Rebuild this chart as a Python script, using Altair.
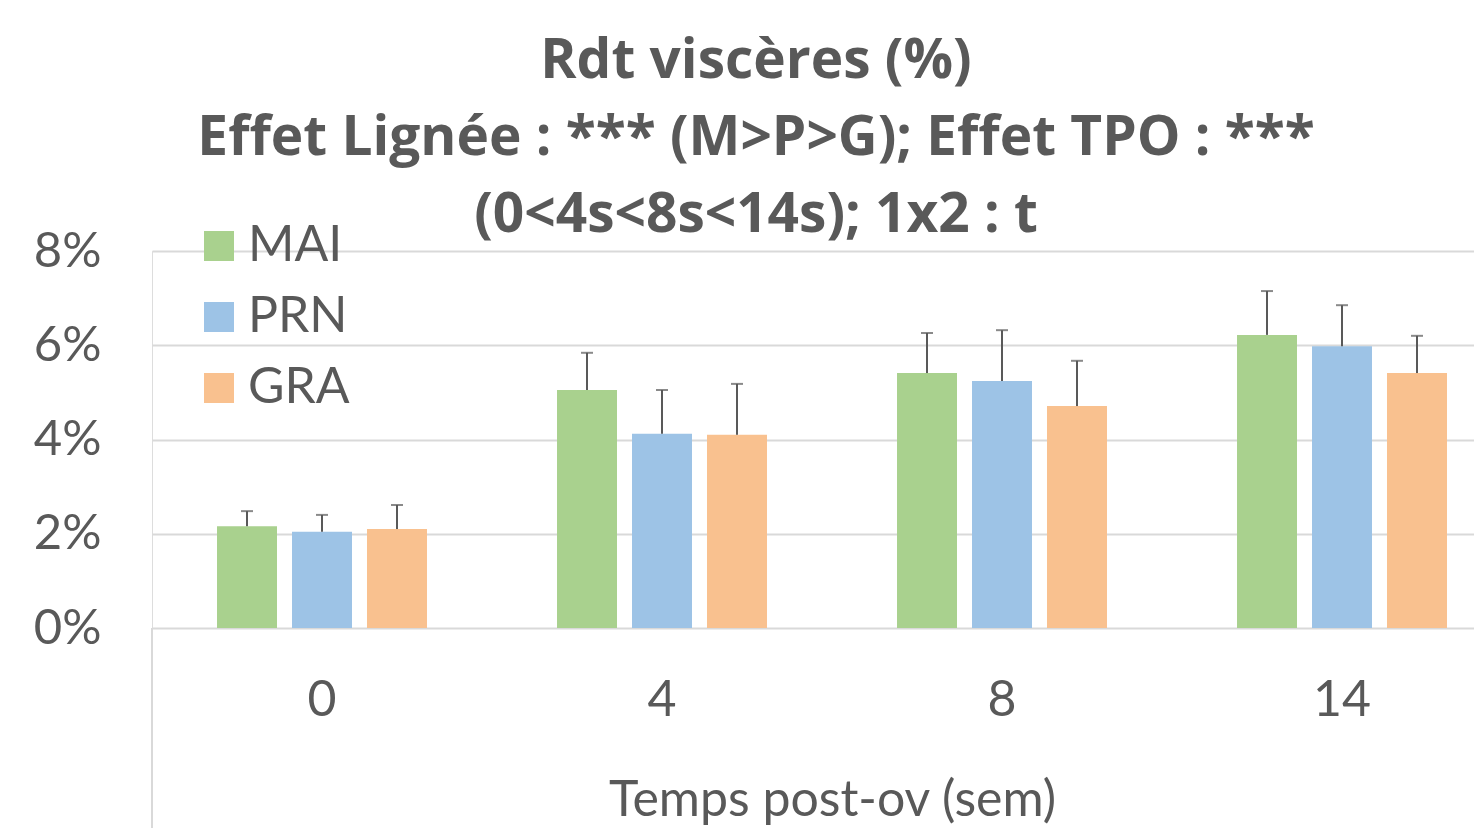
import altair as alt
import pandas as pd

times = ["0", "4", "8", "14"]
lines = ["MAI", "PRN", "GRA"]
mai_mean = [0.0216, 0.0505, 0.0541, 0.0622]
mai_top = [0.0248, 0.0584, 0.0626, 0.0715]
prn_mean = [0.0204, 0.0412, 0.0524, 0.0598]
prn_top = [0.0240, 0.0505, 0.0632, 0.0685]
gra_mean = [0.0210, 0.0410, 0.0471, 0.0541]
gra_top = [0.0261, 0.0518, 0.0567, 0.0620]
colors = ["#A9D18E", "#9DC3E6", "#F9C18F"]

rows = []
for name, means, tops in [("MAI", mai_mean, mai_top), ("PRN", prn_mean, prn_top), ("GRA", gra_mean, gra_top)]:
    for t, m, e in zip(times, means, tops):
        rows.append({"temps": t, "lignee": name, "val": m, "top": e})
df = pd.DataFrame(rows)

FONT = "Lato"
TFONT = "Open Sans"
TXT = "#595959"
W, H = 1322, 377

x = alt.X("temps:N", sort=times,
          scale=alt.Scale(domain=times, range=[0, 1360], paddingInner=0, paddingOuter=0),
          axis=alt.Axis(title="Temps post-ov (sem)", labelAngle=0, domain=False, ticks=False,
                        labelBaseline="alphabetic", labelPadding=87, labelFontSize=50,
                        labelFont=FONT, labelColor=TXT, titleFont=FONT, titleFontSize=50,
                        titleFontWeight="normal", titleColor=TXT, titleX=680, titleY=187,
                        titleBaseline="alphabetic", titleAlign="center", grid=False))
xo = alt.XOffset("lignee:N", sort=lines,
                 scale=alt.Scale(domain=lines, paddingInner=0.2, paddingOuter=0.867))

base = alt.Chart(df)

bars = base.mark_bar().encode(
    x=x, xOffset=xo,
    y=alt.Y("val:Q", scale=alt.Scale(domain=[0, 0.08]),
            axis=alt.Axis(title=None, format=".0%", values=[0, 0.02, 0.04, 0.06, 0.08],
                          domain=False, ticks=False, labelPadding=51, labelFontSize=49,
                          labelFont=FONT, labelColor=TXT, gridColor="#D9D9D9", gridWidth=2)),
    color=alt.Color("lignee:N", sort=lines,
                    scale=alt.Scale(domain=lines, range=colors),
                    legend=alt.Legend(title=None, orient="none", legendX=42, legendY=-30,
                                      symbolType="square", symbolSize=900, symbolStrokeWidth=0,
                                      labelFontSize=50, labelFont=FONT, labelColor=TXT,
                                      labelOffset=4, rowPadding=21, padding=0)),
)

rules = base.mark_rule(color="#595959", strokeWidth=2).encode(
    x=x, xOffset=xo, y="val:Q", y2="top:Q")
caps = base.mark_tick(color="#595959", thickness=2, size=12, orient="horizontal").encode(
    x=x, xOffset=xo, y="top:Q")

vline = alt.Chart(pd.DataFrame({"a": [0]})).mark_rule(color="#D9D9D9", strokeWidth=2).encode(
    x=alt.value(0), y=alt.value(H), y2=alt.value(H + 210))

chart = alt.layer(bars, rules, caps, vline).properties(
    width=W, height=H,
    autosize=alt.AutoSizeParams(type="none"),
    padding={"left": 144, "top": 243, "right": 0, "bottom": 200},
    title=alt.TitleParams(
        text=["Rdt viscères (%)", "Effet Lignée : *** (M>P>G); Effet TPO : ***", "(0<4s<8s<14s); 1x2 : t"],
        fontSize=55, fontWeight="bold", font=TFONT, color=TXT, lineHeight=77,
        anchor="middle", dx=-57, offset=10, dy=33),
).configure_view(stroke=None).configure(background="white")

chart.save("out.html", embed_options={"renderer": "svg", "actions": False})
